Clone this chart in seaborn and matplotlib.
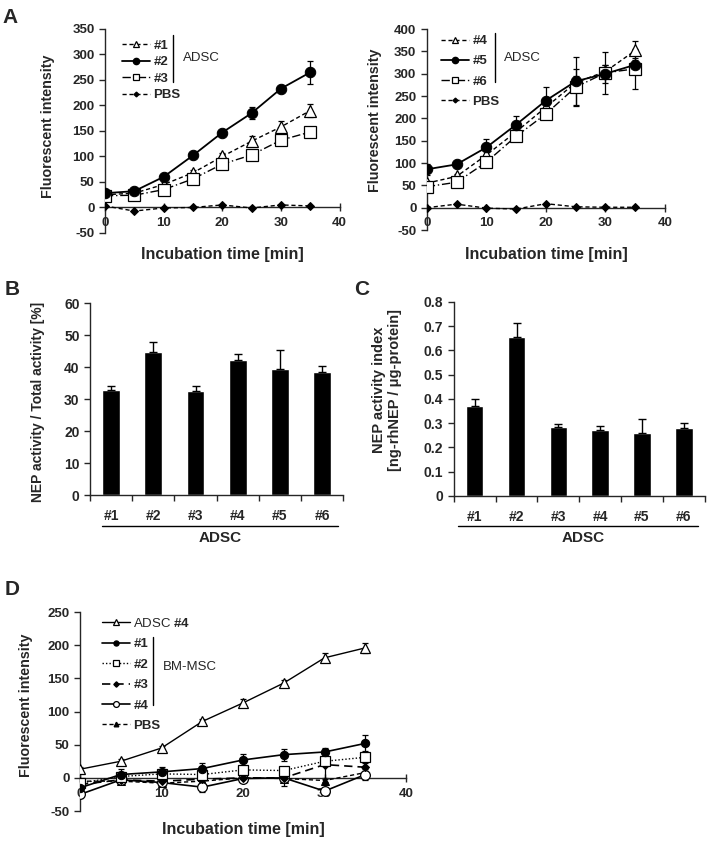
import matplotlib
matplotlib.use('Agg')
import matplotlib.pyplot as plt
from matplotlib.lines import Line2D
import seaborn as sns
import numpy as np

# ---- data ----
time = [0, 5, 10, 15, 20, 25, 30, 35]

# panel A (left): ADSC #1-#3 and PBS
a1_s1 = [25, 28, 45, 68, 100, 130, 158, 190]
a1_s1_err = [3, 3, 4, 5, 6, 10, 12, 12]
a1_s2 = [28, 32, 60, 102, 147, 185, 233, 265]
a1_s2_err = [4, 3, 5, 5, 5, 12, 5, 22]
a1_s3 = [23, 24, 35, 56, 85, 103, 132, 148]
a1_s3_err = [3, 3, 4, 10, 6, 6, 5, 4]
a1_pbs = [3, -7, -1, 0, 5, -1, 5, 3]

# panel A (right): ADSC #4-#6 and PBS
a2_s4 = [55, 70, 118, 170, 225, 280, 305, 352]
a2_s4_err = [5, 5, 8, 10, 10, 15, 15, 22]
a2_s5 = [86, 97, 135, 186, 240, 283, 300, 320]
a2_s5_err = [12, 5, 18, 20, 30, 55, 20, 15]
a2_s6 = [47, 57, 102, 160, 210, 270, 302, 311]
a2_s6_err = [5, 5, 8, 8, 10, 40, 47, 45]
a2_pbs = [0, 8, -1, -3, 9, 2, 1, 1]

# panel B / C: bar charts
donors = ['#1', '#2', '#3', '#4', '#5', '#6']
b_vals = [32.7, 44.8, 32.6, 42.3, 39.3, 38.6]
b_err = [1.4, 3.1, 1.6, 1.8, 6.1, 1.8]
c_vals = [0.37, 0.655, 0.285, 0.27, 0.258, 0.28]
c_err = [0.03, 0.058, 0.012, 0.02, 0.06, 0.022]

# panel D: ADSC #4 vs BM-MSC
d_adsc4 = [13, 25, 45, 85, 113, 143, 181, 196]
d_adsc4_err = [3, 3, 3, 4, 6, 5, 7, 8]
d_bm1 = [-15, 5, 9, 14, 27, 35, 39, 52]
d_bm1_err = [6, 8, 8, 9, 9, 9, 6, 12]
d_bm2 = [-8, 2, 6, 5, 12, 11, 25, 31]
d_bm2_err = [4, 4, 4, 4, 4, 4, 5, 8]
d_bm3 = [-10, -3, -5, -2, 0, 0, 20, 16]
d_bm3_err = [5, 4, 4, 4, 3, 3, 20, 8]
d_bm4 = [-25, -3, -7, -14, -1, 0, -20, 5]
d_bm4_err = [5, 3, 4, 8, 3, 12, 5, 8]
d_pbs = [-5, -5, -8, -5, 0, -1, -4, 8]
d_pbs_err = [3, 3, 3, 3, 3, 3, 3, 3]

sns.set_style('ticks')
plt.rcParams['font.family'] = ['Liberation Sans', 'DejaVu Sans']
plt.rcParams['axes.linewidth'] = 1.0
plt.rcParams['axes.unicode_minus'] = False
plt.rcParams['mathtext.fontset'] = 'custom'
plt.rcParams['mathtext.rm'] = 'Liberation Sans'
plt.rcParams['mathtext.bf'] = 'Liberation Sans:bold'

fig = plt.figure(figsize=(7.09, 8.42), dpi=100)

BOLD = dict(fontweight='bold')


def series(ax, y, err, style):
    if err is not None:
        ax.errorbar(time, y, yerr=err, fmt='none', ecolor='black',
                    elinewidth=0.9, capsize=2.5, capthick=0.9, zorder=2)
    sns.lineplot(x=time, y=y, ax=ax, color='black', zorder=3, **style)


def handle(style, scale=0.6):
    s = dict(style)
    s['markersize'] = style['markersize'] * scale
    return Line2D([], [], color='black', **s)


def line_axes(ax, ymin, ymax, ystep):
    ax.set_xlim(0, 40)
    ax.set_ylim(ymin, ymax)
    ax.set_xticks([0, 10, 20, 30, 40])
    ax.set_yticks(np.arange(ymin, ymax + 1, ystep))
    ax.spines['bottom'].set_position(('data', 0))
    sns.despine(ax=ax)
    ax.tick_params(axis='x', direction='inout', length=6, width=1, labelsize=9.5, pad=4)
    ax.tick_params(axis='y', direction='out', length=4, width=1, labelsize=9.5)
    for lab in ax.get_xticklabels() + ax.get_yticklabels():
        lab.set_fontweight('bold')


def bracket(ax, x, y0, y1, label, tx, ty):
    ax.plot([x, x], [y0, y1], color='black', lw=1.0, transform=ax.transAxes, clip_on=False)
    ax.text(tx, ty, label, transform=ax.transAxes, fontsize=9.5, va='center', ha='left')


def legend(ax, styles, labels, anchor, spacing):
    ax.legend(handles=[handle(s) for s in styles], labels=labels, loc='upper left',
              bbox_to_anchor=anchor, borderpad=0, borderaxespad=0, frameon=False,
              handlelength=2.1, handletextpad=0.3, labelspacing=spacing,
              prop=dict(weight='bold', size=9.5))


sq = dict(marker='s', markersize=8, markerfacecolor='white', markeredgecolor='black', markeredgewidth=0.9)
tri = dict(marker='^', markersize=8, markerfacecolor='white', markeredgecolor='black', markeredgewidth=0.9)
circ = dict(marker='o', markersize=7.5, markerfacecolor='black', markeredgecolor='black')
dia = dict(marker='D', markersize=4, markerfacecolor='black', markeredgecolor='black')

st1 = dict(linestyle=(0, (3, 2)), lw=1.0, **tri)
st2 = dict(linestyle='-', lw=1.3, **circ)
st3 = dict(linestyle=(0, (6, 2, 1, 2)), lw=1.0, **sq)
stp = dict(linestyle=(0, (3, 2)), lw=1.0, **dia)

# ---- panel A left ----
ax = fig.add_axes([0.148, 0.7233, 0.331, 0.2423])
series(ax, a1_pbs, None, stp)
series(ax, a1_s1, a1_s1_err, st1)
series(ax, a1_s3, a1_s3_err, st3)
series(ax, a1_s2, a1_s2_err, st2)
line_axes(ax, -50, 350, 50)
ax.set_ylabel('Fluorescent intensity', fontsize=10.3, **BOLD)
ax.set_xlabel('Incubation time [min]', fontsize=11.5, **BOLD)
ax.yaxis.set_label_coords(-0.213, 0.525)
ax.xaxis.set_label_coords(0.5, -0.07)
legend(ax, [st1, st2, st3, stp], ['#1', '#2', '#3', 'PBS'], (0.072, 0.948), 0.32)
bracket(ax, 0.289, 0.97, 0.74, 'ADSC', 0.332, 0.858)

# ---- panel A right ----
ax = fig.add_axes([0.602, 0.7268, 0.336, 0.2387])
series(ax, a2_pbs, None, stp)
series(ax, a2_s4, a2_s4_err, st1)
series(ax, a2_s6, a2_s6_err, st3)
series(ax, a2_s5, a2_s5_err, st2)
line_axes(ax, -50, 400, 50)
ax.set_ylabel('Fluorescent intensity', fontsize=10.3, **BOLD)
ax.set_xlabel('Incubation time [min]', fontsize=11.5, **BOLD)
ax.yaxis.set_label_coords(-0.189, 0.547)
ax.xaxis.set_label_coords(0.5, -0.085)
legend(ax, [st1, st2, st3, stp], ['#4', '#5', '#6', 'PBS'], (0.059, 0.97), 0.6)
bracket(ax, 0.286, 0.98, 0.736, 'ADSC', 0.324, 0.856)


# ---- bar panels ----
def bar_panel(rect, vals, err, yticks, ylabel, ylab_size, ylab_xy, line_x, line_y, text_xy):
    ax = fig.add_axes(rect)
    sns.barplot(x=donors, y=vals, ax=ax, color='black', width=0.42, saturation=1, errorbar=None)
    ax.errorbar(range(len(vals)), vals, yerr=[np.zeros(len(err)), err], fmt='none',
                ecolor='black', elinewidth=1.0, capsize=3, capthick=1.0)
    ax.set_xlim(-0.5, len(vals) - 0.5)
    ax.set_ylim(0, float(yticks[-1]))
    ax.set_yticks([float(t) for t in yticks])
    ax.set_yticklabels(yticks)
    ax.set_xticks(np.arange(-0.5, len(vals)), minor=True)
    ax.tick_params(axis='x', which='major', length=0, labelsize=10, pad=10)
    ax.tick_params(axis='x', which='minor', direction='out', length=4, width=1)
    ax.tick_params(axis='y', direction='out', length=4, width=1, labelsize=10)
    for lab in ax.get_xticklabels() + ax.get_yticklabels():
        lab.set_fontweight('bold')
    sns.despine(ax=ax)
    ax.set_ylabel(ylabel, fontsize=ylab_size, **BOLD)
    ax.yaxis.set_label_coords(*ylab_xy)
    ax.plot(line_x, [line_y, line_y], color='black', lw=1.0, transform=ax.transAxes, clip_on=False)
    ax.text(text_xy[0], text_xy[1], 'ADSC', transform=ax.transAxes, ha='center', va='center',
            fontsize=11, **BOLD)
    return ax


b_ticks = ['0', '10', '20', '30', '40', '50', '60']
c_ticks = ['0', '0.1', '0.2', '0.3', '0.4', '0.5', '0.6', '0.7', '0.8']
bar_panel([0.127, 0.4121, 0.357, 0.228], b_vals, b_err, b_ticks,
          'NEP activity / Total activity [%]', 10, (-0.178, 0.484),
          [0.047, 0.98], -0.161, (0.514, -0.224))
bar_panel([0.640, 0.411, 0.354, 0.2304], c_vals, c_err, c_ticks,
          'NEP activity index\n[ng-rhNEP / \u03bcg-protein]', 10.5, (-0.207, 0.546),
          [0.016, 0.972], -0.155, (0.514, -0.216))

# ---- panel D ----
ax = fig.add_axes([0.1128, 0.0368, 0.46, 0.2363])
dA = dict(linestyle='-', lw=1.0, marker='^', markersize=7, markerfacecolor='white',
          markeredgecolor='black', markeredgewidth=0.9)
d1 = dict(linestyle='-', lw=1.2, marker='o', markersize=6, markerfacecolor='black',
          markeredgecolor='black')
d2 = dict(linestyle=(0, (1, 1.5)), lw=1.0, marker='s', markersize=7, markerfacecolor='white',
          markeredgecolor='black', markeredgewidth=0.9)
d3 = dict(linestyle=(0, (5, 3)), lw=1.2, marker='D', markersize=4.5, markerfacecolor='black',
          markeredgecolor='black')
d4 = dict(linestyle='-', lw=1.2, marker='o', markersize=7, markerfacecolor='white',
          markeredgecolor='black', markeredgewidth=0.9)
dp = dict(linestyle=(0, (3, 2)), lw=1.0, marker='^', markersize=5.5, markerfacecolor='black',
          markeredgecolor='black')
series(ax, d_pbs, d_pbs_err, dp)
series(ax, d_bm4, d_bm4_err, d4)
series(ax, d_bm3, d_bm3_err, d3)
series(ax, d_bm2, d_bm2_err, d2)
series(ax, d_bm1, d_bm1_err, d1)
series(ax, d_adsc4, d_adsc4_err, dA)
line_axes(ax, -50, 250, 50)
ax.set_ylabel('Fluorescent intensity', fontsize=10.3, **BOLD)
ax.set_xlabel('Incubation time [min]', fontsize=11.5, **BOLD)
ax.yaxis.set_label_coords(-0.144, 0.533)
ax.xaxis.set_label_coords(0.5, -0.055)
legend(ax, [dA, d1, d2, d3, d4, dp],
       ['ADSC $\\mathbf{\\#4}$', '#1', '#2', '#3', '#4', 'PBS'], (0.067, 0.975), 0.62)
ax.get_legend().get_texts()[0].set_fontweight('normal')
bracket(ax, 0.224, 0.874, 0.533, 'BM-MSC', 0.255, 0.724)

# ---- panel letters ----
for lbl, x, y in [('A', 0.004, 0.99), ('B', 0.006, 0.667), ('C', 0.499, 0.667), ('D', 0.006, 0.311)]:
    fig.text(x, y, lbl, fontsize=15, fontweight='bold', ha='left', va='top')

fig.savefig('out.png', dpi=100)
